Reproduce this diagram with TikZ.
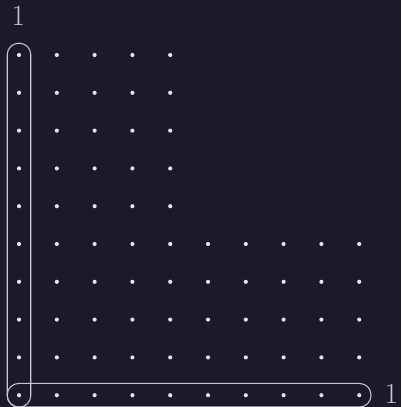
\documentclass[tikz,border=0pt]{standalone}
\usepackage{fontspec}
\usepackage{tikz}
\usetikzlibrary{positioning,fit}
\usepackage{xcolor}
\definecolor{GridBack}{RGB}{27,26,38}
\definecolor{GridDot}{RGB}{228,227,240}
\definecolor{GridLine}{RGB}{200,198,216}

\begin{document}
\begin{tikzpicture}[
dot/.style={circle,fill=GridDot,inner sep=0pt,minimum size=0.11cm},
band/.style={rectangle,rounded corners=0.3cm,draw=GridLine,line width=0.8pt,inner sep=0.249cm},
lbl/.style={text=GridLine,font=\fontsize{22}{26}\selectfont,inner sep=0pt}
]
\fill[GridBack] (-0.503,1.455) rectangle (10.106,-9.312);
\useasboundingbox (-0.503,1.455) rectangle (10.106,-9.312);
% upper block: five columns
\foreach \j in {0,...,4}
  \foreach \i in {0,...,4}
    \node[dot] (d-\i-\j) at (\i,-\j) {};
% lower block: ten columns
\foreach \j in {5,...,9}
  \foreach \i in {0,...,9}
    \node[dot] (d-\i-\j) at (\i,-\j) {};
\node[band,fit=(d-0-0)(d-0-9)] (colband) {};
\node[band,fit=(d-0-9)(d-9-9)] (rowband) {};
\node[lbl,above=0.44cm of colband.north,xshift=-0.015cm] (toplbl) {1};
\node[lbl,right=0.34cm of rowband.east,yshift=0.04cm] (rightlbl) {1};
\end{tikzpicture}
\end{document}
